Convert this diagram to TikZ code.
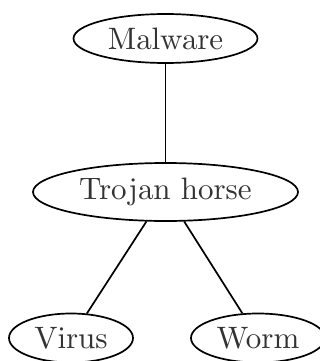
\documentclass[tikz,border=0pt]{standalone}
\usepackage{tikz}
\usetikzlibrary{shapes.geometric}
\font\termfont=cmr10 at 31pt

\begin{document}
\begin{tikzpicture}[-,line width=1.7pt,node distance=153.5pt]
  \tikzstyle{term}=[ellipse,draw=black,fill=white,text=black!80,inner sep=0pt,
                    minimum height=49pt,font=\termfont]
  \useasboundingbox (0,0) rectangle (320pt,-361pt);

  \node[term,minimum width=184pt] (M) at (165.5pt,-38.5pt) {Malware};
  \node[term,minimum width=265pt,minimum height=58pt] (T) [below of=M] {Trojan horse};
  \node[term,minimum width=124pt] (V) [below of=T,node distance=146pt,xshift=-94.5pt] {Virus};
  \node[term,minimum width=134pt] (W) [below of=T,node distance=146pt,xshift=92.5pt] {Worm};

  \path (M) edge (T)
        (T) edge (V)
            edge (W);
\end{tikzpicture}
\end{document}
